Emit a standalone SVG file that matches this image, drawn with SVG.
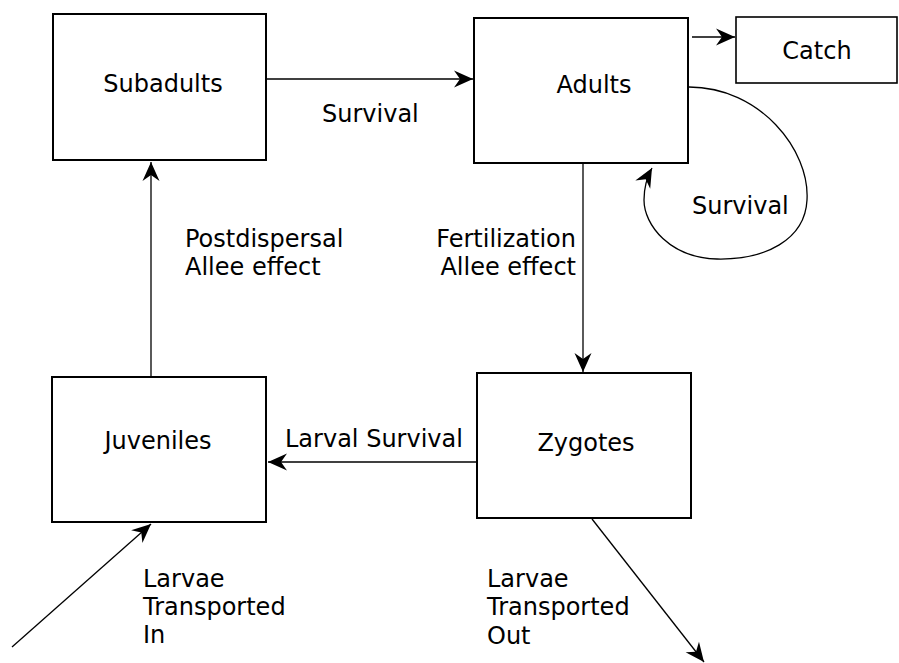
<svg xmlns="http://www.w3.org/2000/svg" width="899" height="663" viewBox="0 0 899 663">
  <style>
    .box { fill: #fff; stroke: #000; stroke-width: 2; }
    .lbl { font-family: "DejaVu Sans", "Liberation Sans", sans-serif; font-size: 24px; fill: #000; }
    .mid { text-anchor: middle; }
    .end { text-anchor: end; }
    .edge { fill: none; stroke: #000; stroke-width: 1.3; marker-end: url(#head); }
  </style>
  <defs>
    <marker id="head" markerUnits="userSpaceOnUse" markerWidth="22" markerHeight="20" viewBox="-20 -10 21 20" refX="0" refY="0" orient="auto">
      <path d="M0,0 L-19,-8.5 L-13,0 L-19,8.5 Z" fill="#000"/>
    </marker>
  </defs>

  <rect width="899" height="663" fill="#fff"/>

  <g id="connectors">
    <!-- Subadults to Adults -->
    <line class="edge" x1="267" y1="79" x2="473" y2="79"/>
    <!-- Adults to Catch -->
    <line class="edge" x1="692" y1="37" x2="735" y2="37"/>
    <!-- Adults self-loop -->
    <path class="edge" d="M689,87 C760,87 810,150 807,200 C805,240 765,260 717,259 C670,258 644,225 644,200 C644,188 647,177 652,168"/>
    <!-- Adults to Zygotes -->
    <line class="edge" x1="583" y1="163" x2="583" y2="372"/>
    <!-- Zygotes to Juveniles -->
    <line class="edge" x1="477" y1="462" x2="268" y2="462"/>
    <!-- Juveniles to Subadults -->
    <line class="edge" x1="151" y1="377" x2="151" y2="162"/>
    <!-- Larvae transported in -->
    <line class="edge" x1="12" y1="647" x2="151" y2="524"/>
    <!-- Larvae transported out -->
    <line class="edge" x1="592" y1="519" x2="704" y2="662"/>
  </g>

  <g id="subadults">
    <rect class="box" x="53" y="14" width="213" height="146"/>
    <text class="lbl mid" x="163" y="92">Subadults</text>
  </g>
  <g id="adults">
    <rect class="box" x="474" y="18" width="214" height="145"/>
    <text class="lbl mid" x="594" y="93">Adults</text>
  </g>
  <g id="catch">
    <rect class="box" x="736" y="17" width="161" height="66" style="stroke-width:1.6"/>
    <text class="lbl mid" x="817" y="59">Catch</text>
  </g>
  <g id="juveniles">
    <rect class="box" x="52" y="377" width="214" height="145"/>
    <text class="lbl mid" x="158" y="449">Juveniles</text>
  </g>
  <g id="zygotes">
    <rect class="box" x="477" y="373" width="214" height="145"/>
    <text class="lbl mid" x="586" y="451">Zygotes</text>
  </g>

  <g id="labels">
    <text class="lbl" x="322" y="122">Survival</text>
    <text class="lbl" x="692" y="214">Survival</text>
    <text class="lbl" x="185" y="247">Postdispersal</text>
    <text class="lbl" x="185" y="275">Allee effect</text>
    <text class="lbl end" x="576" y="247">Fertilization</text>
    <text class="lbl end" x="576" y="275">Allee effect</text>
    <text class="lbl" x="285" y="447">Larval Survival</text>
    <text class="lbl" x="143" y="587">Larvae</text>
    <text class="lbl" x="143" y="615">Transported</text>
    <text class="lbl" x="143" y="643">In</text>
    <text class="lbl" x="487" y="587">Larvae</text>
    <text class="lbl" x="487" y="615">Transported</text>
    <text class="lbl" x="487" y="644">Out</text>
  </g>
</svg>
